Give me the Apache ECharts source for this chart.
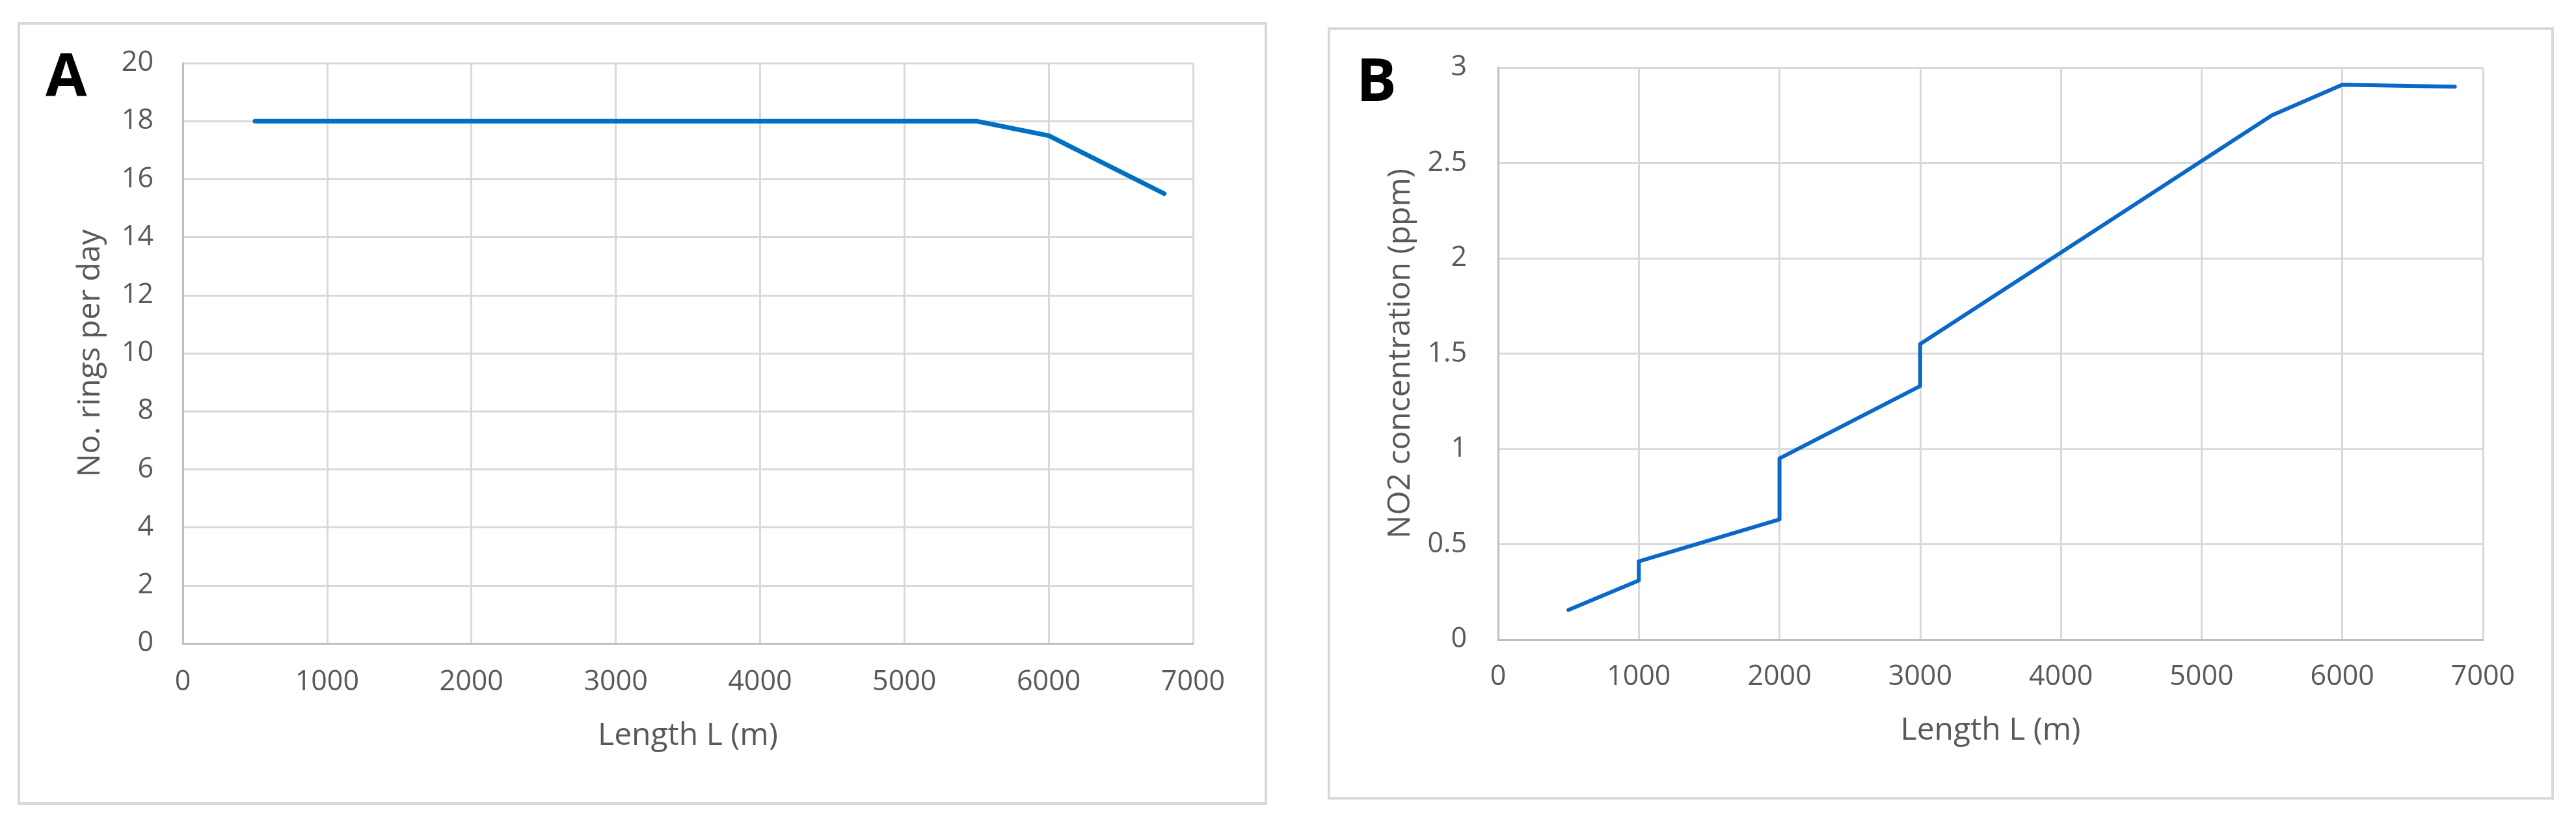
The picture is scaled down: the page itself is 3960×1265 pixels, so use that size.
<!DOCTYPE html>
<html>
<head>
<meta charset="utf-8">
<script src="https://cdn.jsdelivr.net/npm/echarts@6/dist/echarts.min.js"></script>
<style>
html,body{margin:0;padding:0;background:#fff;}
#chart{width:3960px;height:1265px;}
</style>
</head>
<body>
<div id="chart"></div>
<script>
// Panel A data
var lengthA = [500, 1000, 2000, 3000, 4000, 5000, 5500, 6000, 6800];
var ringsPerDay = [18, 18, 18, 18, 18, 18, 18, 17.5, 15.5];
// Panel B data (vertical steps at 1000, 2000, 3000 m)
var lengthB = [500, 1000, 1000, 2000, 2000, 3000, 3000, 4000, 5000, 5500, 6000, 6800];
var no2ppm = [0.155, 0.31, 0.41, 0.63, 0.95, 1.33, 1.55, 2.03, 2.51, 2.75, 2.91, 2.90];
// Tick settings
var xTicks = {min: 0, max: 7000, interval: 1000};
var yTicksA = {min: 0, max: 20, interval: 2};
var yTicksB = {min: 0, max: 3, interval: 0.5};
var panelLabels = ['A', 'B'];
var xTitle = 'Length L (m)';
var yTitleA = 'No. rings per day';
var yTitleB = 'NO2 concentration (ppm)';

function pairs(xs, ys) { return xs.map(function (x, i) { return [x, ys[i]]; }); }
function plain(v) { return String(v); }

var FONT = 'Open Sans';
var TXT = '#595959';
var GRID = '#d9d9d9';

function xAxis(gridIndex, labelMargin, nameGap) {
  return {
    type: 'value', gridIndex: gridIndex,
    min: xTicks.min, max: xTicks.max, interval: xTicks.interval,
    name: xTitle, nameLocation: 'middle', nameGap: nameGap,
    nameTextStyle: {fontFamily: FONT, fontSize: 48, color: TXT},
    axisLine: {show: true, lineStyle: {color: '#bfbfbf', width: 3}},
    axisTick: {show: false},
    axisLabel: {fontFamily: FONT, fontSize: 43, color: TXT, margin: labelMargin, formatter: plain},
    splitLine: {show: true, lineStyle: {color: GRID, width: 3}}
  };
}
function yAxis(gridIndex, t, name, labelMargin, nameGap) {
  return {
    type: 'value', gridIndex: gridIndex,
    min: t.min, max: t.max, interval: t.interval,
    name: name, nameLocation: 'middle', nameGap: nameGap, nameRotate: 90,
    nameTextStyle: {fontFamily: FONT, fontSize: 48, color: TXT},
    axisLine: {show: true, lineStyle: {color: '#bfbfbf', width: 3}},
    axisTick: {show: false},
    axisLabel: {fontFamily: FONT, fontSize: 43, color: TXT, margin: labelMargin, formatter: plain},
    splitLine: {show: true, lineStyle: {color: GRID, width: 3}}
  };
}

var chart = echarts.init(document.getElementById('chart'), null, {renderer: 'canvas'});
chart.setOption({
  backgroundColor: '#ffffff',
  animation: false,
  grid: [
    {left: 281, top: 97, width: 1553, height: 892},
    {left: 2303, top: 104, width: 1514, height: 879}
  ],
  xAxis: [xAxis(0, 38, 118), xAxis(1, 36, 116)],
  yAxis: [yAxis(0, yTicksA, yTitleA, 45, 118), yAxis(1, yTicksB, yTitleB, 48, 126)],
  graphic: [
    {type: 'rect', shape: {x: 29, y: 36, width: 1917, height: 1199},
     style: {fill: 'none', stroke: GRID, lineWidth: 4}, silent: true, z: 0},
    {type: 'rect', shape: {x: 2043, y: 44, width: 1881, height: 1183},
     style: {fill: 'none', stroke: GRID, lineWidth: 4}, silent: true, z: 0},
    {type: 'text', left: 70, top: 76,
     style: {text: panelLabels[0], fontFamily: FONT, fontWeight: 'bold', fontSize: 92, fill: '#000'}},
    {type: 'text', left: 2085, top: 83,
     style: {text: panelLabels[1], fontFamily: FONT, fontWeight: 'bold', fontSize: 92, fill: '#000'}}
  ],
  series: [
    {type: 'line', xAxisIndex: 0, yAxisIndex: 0, data: pairs(lengthA, ringsPerDay),
     showSymbol: false, symbol: 'none', lineStyle: {color: '#0070c0', width: 7, cap: 'round', join: 'round'}},
    {type: 'line', xAxisIndex: 1, yAxisIndex: 1, data: pairs(lengthB, no2ppm),
     showSymbol: false, symbol: 'none', lineStyle: {color: '#0a68c8', width: 6, cap: 'round', join: 'round'}}
  ]
});
</script>
</body>
</html>
